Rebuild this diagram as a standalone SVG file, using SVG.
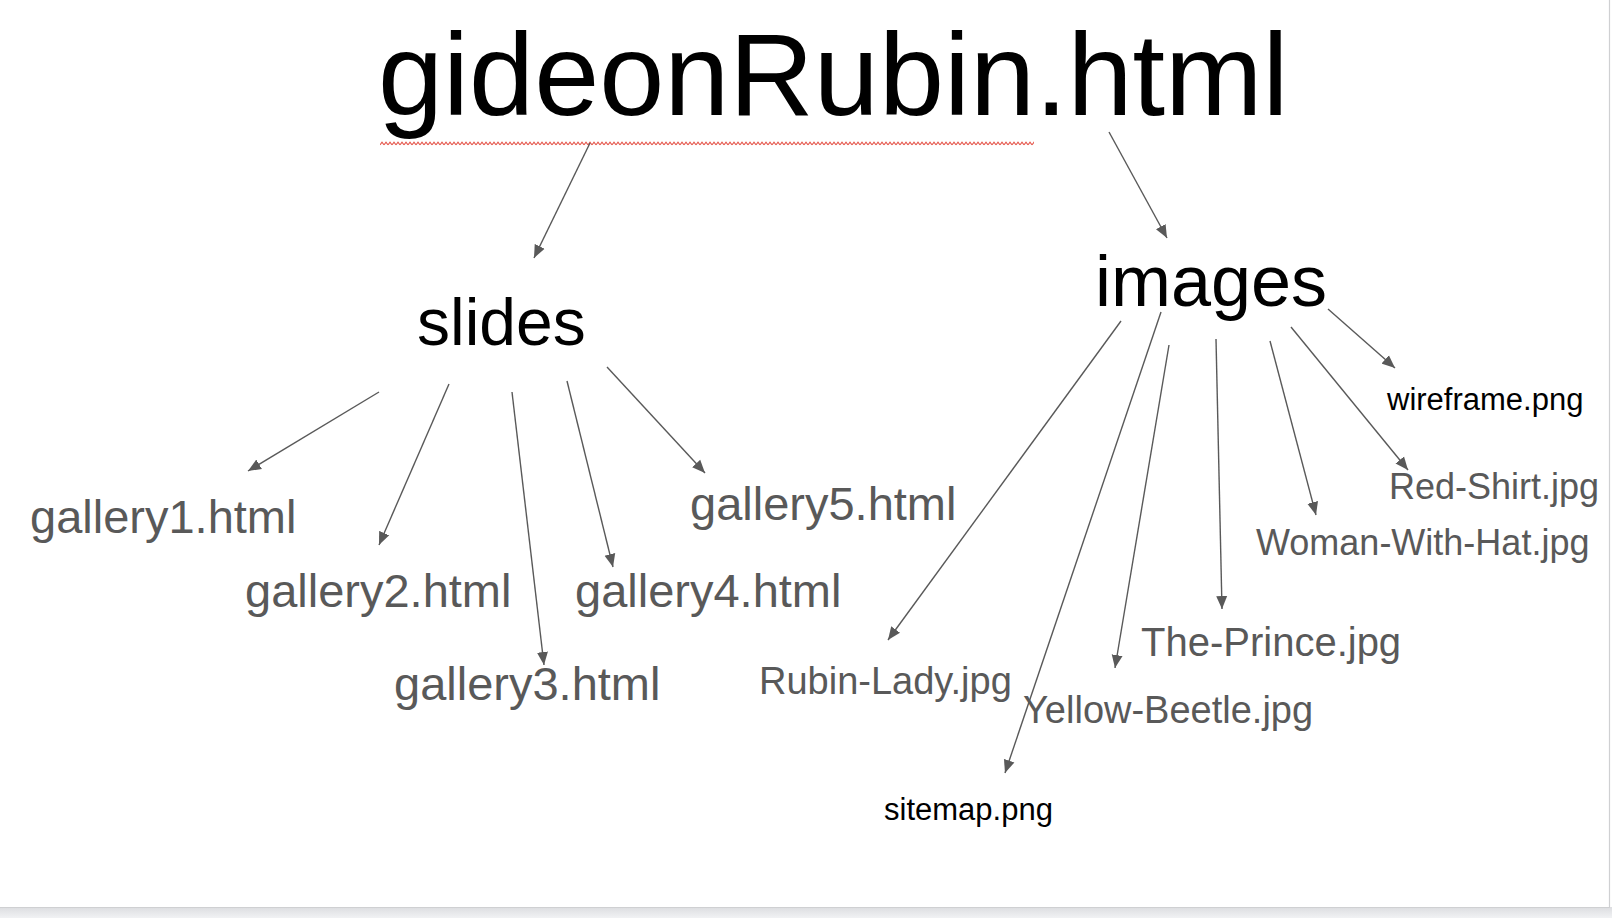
<svg xmlns="http://www.w3.org/2000/svg" width="1612" height="918" viewBox="0 0 1612 918">
  <defs>
    <marker id="ah" markerUnits="userSpaceOnUse" markerWidth="14" markerHeight="12" refX="13" refY="6" orient="auto">
      <path d="M0,0.5 L13,6 L0,11.5 z" fill="#595959"/>
    </marker>
    <pattern id="squiggle" patternUnits="userSpaceOnUse" x="380" y="141" width="4" height="5">
      <path d="M0,3.8 L2,1.2 L4,3.8" fill="none" stroke="#e5564b" stroke-width="1.1"/>
    </pattern>
    <linearGradient id="band" x1="0" y1="0" x2="0" y2="1">
      <stop offset="0" stop-color="#dcdde0"/>
      <stop offset="1" stop-color="#f1f2f4"/>
    </linearGradient>
  </defs>
  <style>
    text { font-family: "Liberation Sans", Arial, sans-serif; }
    .blk { fill: #000000; }
    .gry { fill: #595959; }
    .conn line { stroke: #595959; stroke-width: 1.4; marker-end: url(#ah); }
  </style>

  <rect x="0" y="0" width="1612" height="918" fill="#ffffff"/>
  <rect x="0" y="907" width="1612" height="11" fill="url(#band)"/>
  <line x1="0" y1="907.5" x2="1610" y2="907.5" stroke="#cfd0d2" stroke-width="1.2"/>
  <line x1="1609.5" y1="0" x2="1609.5" y2="908" stroke="#cfd0d2" stroke-width="1.2"/>

  <g id="root">
    <text class="blk" x="378" y="115" font-size="117">gideonRubin.html</text>
    <rect x="380" y="141" width="654" height="5" fill="url(#squiggle)"/>
  </g>

  <g id="slides"><text class="blk" x="417" y="345" font-size="66">slides</text></g>
  <g id="images"><text class="blk" x="1095" y="306" font-size="72">images</text></g>

  <g id="gallery1"><text class="gry" x="30" y="533" font-size="47">gallery1.html</text></g>
  <g id="gallery2"><text class="gry" x="245" y="607" font-size="47">gallery2.html</text></g>
  <g id="gallery3"><text class="gry" x="394" y="700" font-size="47">gallery3.html</text></g>
  <g id="gallery4"><text class="gry" x="575" y="607" font-size="47">gallery4.html</text></g>
  <g id="gallery5"><text class="gry" x="690" y="520" font-size="47">gallery5.html</text></g>

  <g id="wireframe"><text class="blk" x="1387" y="410" font-size="31">wireframe.png</text></g>
  <g id="red-shirt"><text class="gry" x="1389" y="499" font-size="36">Red-Shirt.jpg</text></g>
  <g id="woman-with-hat"><text class="gry" x="1256" y="555" font-size="36">Woman-With-Hat.jpg</text></g>
  <g id="the-prince"><text class="gry" x="1141" y="656" font-size="40">The-Prince.jpg</text></g>
  <g id="rubin-lady"><text class="gry" x="759" y="694" font-size="38">Rubin-Lady.jpg</text></g>
  <g id="yellow-beetle"><text class="gry" x="1023" y="723" font-size="38">Yellow-Beetle.jpg</text></g>
  <g id="sitemap"><text class="blk" x="884" y="820" font-size="31">sitemap.png</text></g>

  <g id="connectors" class="conn">
    <line x1="590" y1="143" x2="534" y2="258"/>
    <line x1="1109" y1="132" x2="1167" y2="238"/>

    <line x1="379" y1="392" x2="248" y2="471"/>
    <line x1="449" y1="384" x2="379" y2="545"/>
    <line x1="512" y1="392" x2="544" y2="665"/>
    <line x1="567" y1="381" x2="613" y2="567"/>
    <line x1="607" y1="367" x2="705" y2="473"/>

    <line x1="1121" y1="321" x2="888" y2="640"/>
    <line x1="1161" y1="312" x2="1005" y2="773"/>
    <line x1="1169" y1="345" x2="1115" y2="668"/>
    <line x1="1216" y1="339" x2="1222" y2="609"/>
    <line x1="1270" y1="341" x2="1316" y2="515"/>
    <line x1="1291" y1="327" x2="1408" y2="470"/>
    <line x1="1328" y1="309" x2="1395" y2="368"/>
  </g>
</svg>
